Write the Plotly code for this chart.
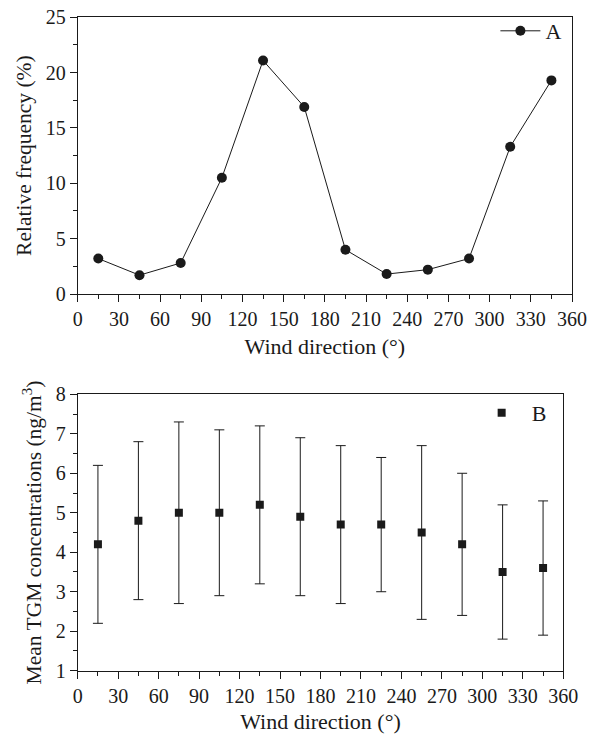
import plotly.graph_objects as go

# Data
directions = [15, 45, 75, 105, 135, 165, 195, 225, 255, 285, 315, 345]
rel_freq = [3.2, 1.7, 2.8, 10.5, 21.1, 16.9, 4.0, 1.8, 2.2, 3.2, 13.3, 19.3]
tgm_mean = [4.2, 4.8, 5.0, 5.0, 5.2, 4.9, 4.7, 4.7, 4.5, 4.2, 3.5, 3.6]
tgm_upper = [6.2, 6.8, 7.3, 7.1, 7.2, 6.9, 6.7, 6.4, 6.7, 6.0, 5.2, 5.3]
tgm_lower = [2.2, 2.8, 2.7, 2.9, 3.2, 2.9, 2.7, 3.0, 2.3, 2.4, 1.8, 1.9]
x_ticks = list(range(0, 361, 30))

FONT = "Liberation Serif"
INK = "#1a1a1a"

err_plus = [u - m for u, m in zip(tgm_upper, tgm_mean)]
err_minus = [m - l for m, l in zip(tgm_mean, tgm_lower)]

fig = go.Figure()
fig.add_trace(go.Scatter(
    x=directions, y=rel_freq, mode="lines+markers", name="A",
    line=dict(color=INK, width=1),
    marker=dict(symbol="circle", size=10, color=INK),
    xaxis="x", yaxis="y", legend="legend", showlegend=True,
))
fig.add_trace(go.Scatter(
    x=directions, y=tgm_mean, mode="markers", name="B",
    marker=dict(symbol="square", size=8, color=INK),
    error_y=dict(type="data", symmetric=False, array=err_plus, arrayminus=err_minus,
                 color=INK, thickness=1, width=5),
    xaxis="x2", yaxis="y2", legend="legend2", showlegend=True,
))

W, H = 590, 737
def dx(a, b):
    return [a / W, b / W]
def dy(top, bottom):
    return [1 - bottom / H, 1 - top / H]

axis_common = dict(
    showline=True, linecolor=INK, linewidth=1, mirror=True,
    ticks="outside", ticklen=7, tickwidth=1, tickcolor=INK,
    showgrid=False, zeroline=False, automargin=False,
    tickfont=dict(family=FONT, size=20, color=INK),
)
xtitle_font = dict(family=FONT, size=22, color=INK)
ytitle_font = dict(family=FONT, size=21.5, color=INK)

fig.update_layout(
    template="none",
    width=W, height=H, autosize=False,
    margin=dict(l=0, r=0, t=0, b=0, pad=0),
    paper_bgcolor="white", plot_bgcolor="white",
    font=dict(family=FONT, size=20, color=INK),
    showlegend=True,
    xaxis=dict(domain=dx(77.7, 572), range=[0, 360], tickvals=x_ticks, anchor="y",
               minor=dict(dtick=15, tick0=0, ticks="outside", ticklen=4, tickcolor=INK),
               title=dict(text="Wind direction (°)", font=xtitle_font, standoff=9),
               **axis_common),
    yaxis=dict(domain=dy(17.3, 294), range=[0, 25], dtick=5, anchor="x",
               minor=dict(dtick=2.5, ticks="outside", ticklen=4, tickcolor=INK),
               title=dict(text="Relative frequency (%)", font=ytitle_font, standoff=8),
               **axis_common),
    xaxis2=dict(domain=dx(77.7, 563.3), range=[0, 360], tickvals=x_ticks, anchor="y2",
                minor=dict(dtick=15, tick0=0, ticks="outside", ticklen=4, tickcolor=INK),
                title=dict(text="Wind direction (°)", font=xtitle_font, standoff=7),
                **axis_common),
    yaxis2=dict(domain=dy(394.3, 670.7), range=[1, 8], dtick=1, anchor="x2",
                minor=dict(dtick=0.5, ticks="outside", ticklen=4, tickcolor=INK),
                title=dict(text="Mean TGM concentrations (ng/m<sup>3</sup>)", font=ytitle_font, standoff=8),
                **axis_common),
    legend=dict(x=0.96, y=1 - 31 / H, xanchor="right", yanchor="middle",
                bgcolor="rgba(0,0,0,0)", borderwidth=0, itemwidth=40,
                font=dict(family=FONT, size=22, color=INK)),
    legend2=dict(x=0.935, y=1 - 413 / H, xanchor="right", yanchor="middle",
                 bgcolor="rgba(0,0,0,0)", borderwidth=0, itemwidth=50,
                 font=dict(family=FONT, size=22, color=INK)),
)

fig.write_html("out.html")
